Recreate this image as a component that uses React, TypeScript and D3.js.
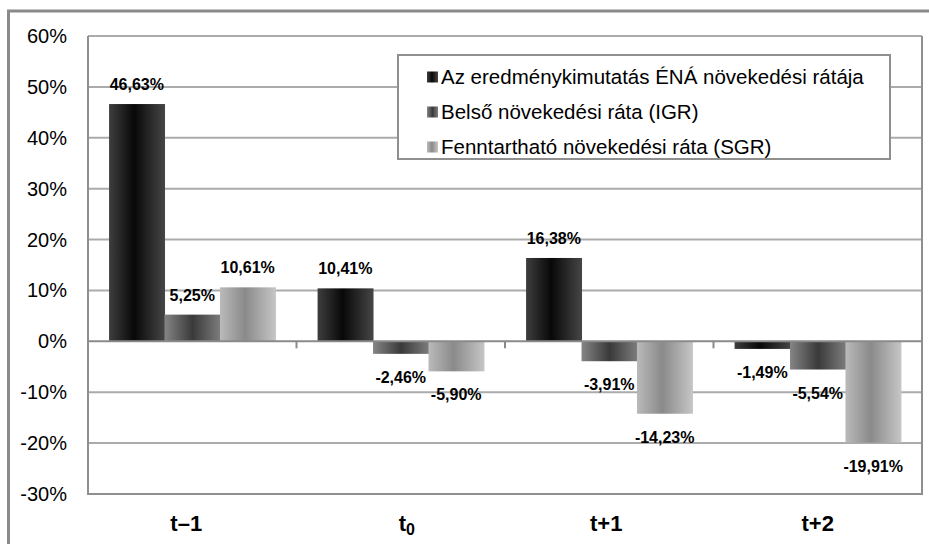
import React, { useEffect, useRef } from "react";
import * as d3 from "d3";

const categories = ["t–1", "t0", "t+1", "t+2"];
const seriesNames = [
  "Az eredménykimutatás ÉNÁ növekedési rátája",
  "Belső növekedési ráta (IGR)",
  "Fenntartható növekedési ráta (SGR)",
];
// values in percent, per category
const enaGrowth = [46.63, 10.41, 16.38, -1.49];
const igr = [5.25, -2.46, -3.91, -5.54];
const sgr = [10.61, -5.9, -14.23, -19.91];
const yTicks = [-30, -20, -10, 0, 10, 20, 30, 40, 50, 60];

const gradients = [
  [["0%", "#3e3e3e"], ["45%", "#080808"], ["100%", "#464646"]],
  [["0%", "#858585"], ["50%", "#3a3a3a"], ["100%", "#7c7c7c"]],
  [["0%", "#bababa"], ["45%", "#8a8a8a"], ["100%", "#c6c6c6"]],
];

const fmt = (v: number) => v.toFixed(2).replace(".", ",") + "%";

export default function App() {
  const ref = useRef<HTMLDivElement>(null);

  useEffect(() => {
    const width = 929;
    const height = 544;
    const left = 88, right = 922, top = 36, bottom = 494;
    const labelShift = [-6, 6, -3, 0];

    d3.select(ref.current).select("svg").remove();

    const svg = d3
      .select(ref.current)
      .append("svg")
      .attr("width", width)
      .attr("height", height)
      .style("position", "absolute")
      .style("left", "0px")
      .style("top", "0px")
      .style("font-family", "'Liberation Sans', Arial, sans-serif");

    const defs = svg.append("defs");
    gradients.forEach((stops, i) => {
      const g = defs.append("linearGradient").attr("id", "grad" + i)
        .attr("x1", "0%").attr("x2", "100%").attr("y1", "0%").attr("y2", "0%");
      stops.forEach(([o, c]) => g.append("stop").attr("offset", o).attr("stop-color", c));
    });

    svg.append("rect").attr("width", width).attr("height", height).attr("fill", "#fff");
    // outer frame
    svg.append("rect").attr("x", 8.5).attr("y", 11).attr("width", 1000).attr("height", 1000)
      .attr("fill", "none").attr("stroke", "#8a8a8a").attr("stroke-width", 3);

    const y = d3.scaleLinear().domain([-30, 60]).range([bottom, top]);
    const x0 = d3.scaleBand().domain(categories).range([left, right]);
    const x1 = d3.scaleBand().domain(seriesNames.map((_, i) => String(i)))
      .range([0, x0.bandwidth()]).paddingInner(0).paddingOuter(0.38);

    // gridlines
    svg.append("g").selectAll("line").data(yTicks.filter((t) => t !== -30 && t !== 0)).enter()
      .append("line")
      .attr("x1", left).attr("x2", right)
      .attr("y1", (d) => y(d)).attr("y2", (d) => y(d))
      .attr("stroke", "#ababab").attr("stroke-width", 2);

    // plot border
    svg.append("path")
      .attr("d", `M${left},${top}V${bottom}H${right}V${top}`)
      .attr("fill", "none").attr("stroke", "#8f8f8f").attr("stroke-width", 2);

    // y labels
    svg.append("g").selectAll("text").data(yTicks).enter().append("text")
      .attr("x", 67).attr("y", (d) => y(d))
      .attr("dy", "0.35em").attr("text-anchor", "end")
      .attr("font-size", 20).attr("fill", "#000")
      .text((d) => d + "%");

    const seriesData = [enaGrowth, igr, sgr];
    const bars = svg.append("g");
    seriesData.forEach((vals, s) => {
      vals.forEach((v, c) => {
        const bx = x0(categories[c])! + x1(String(s))!;
        const bw = x1.bandwidth();
        bars.append("rect")
          .attr("x", bx).attr("width", bw + 0.5)
          .attr("y", Math.min(y(v), y(0)))
          .attr("height", Math.abs(y(v) - y(0)))
          .attr("fill", `url(#grad${s})`);
        bars.append("text")
          .attr("x", bx + bw / 2)
          .attr("y", v >= 0 ? y(v) - 14 : y(v) + 29)
          .attr("text-anchor", "middle")
          .attr("font-size", 16).attr("font-weight", "bold")
          .text(fmt(v));
      });
    });

    // zero axis
    svg.append("line").attr("x1", left).attr("x2", right)
      .attr("y1", y(0)).attr("y2", y(0))
      .attr("stroke", "#8a8a8a").attr("stroke-width", 2);
    svg.append("g").selectAll("line").data(categories.slice(1)).enter().append("line")
      .attr("x1", (d) => x0(d)!).attr("x2", (d) => x0(d)!)
      .attr("y1", y(0)).attr("y2", y(0) + 7)
      .attr("stroke", "#8a8a8a").attr("stroke-width", 2);

    // x labels
    const xl = svg.append("g").selectAll("text").data(categories).enter().append("text")
      .attr("x", (d, i) => x0(d)! + x0.bandwidth() / 2 + labelShift[i])
      .attr("y", 531).attr("text-anchor", "middle")
      .attr("font-size", 22).attr("font-weight", "bold");
    xl.each(function (d) {
      const t = d3.select(this);
      if (d === "t0") {
        t.append("tspan").text("t");
        t.append("tspan").attr("font-size", 16).attr("dy", 4).text("0");
      } else {
        t.text(d);
      }
    });

    // legend
    const lg = svg.append("g");
    lg.append("rect").attr("x", 398).attr("y", 55).attr("width", 492).attr("height", 104)
      .attr("fill", "#fff").attr("stroke", "#8f8f8f").attr("stroke-width", 2);
    seriesNames.forEach((name, i) => {
      const cy = 77 + i * 35;
      lg.append("rect").attr("x", 427).attr("y", cy - 5.5).attr("width", 11).attr("height", 11)
        .attr("fill", `url(#grad${i})`);
      lg.append("text").attr("x", 441).attr("y", cy).attr("dy", "0.35em")
        .attr("font-size", 20.5).text(name);
    });
  }, []);

  return <div ref={ref}></div>;
}
